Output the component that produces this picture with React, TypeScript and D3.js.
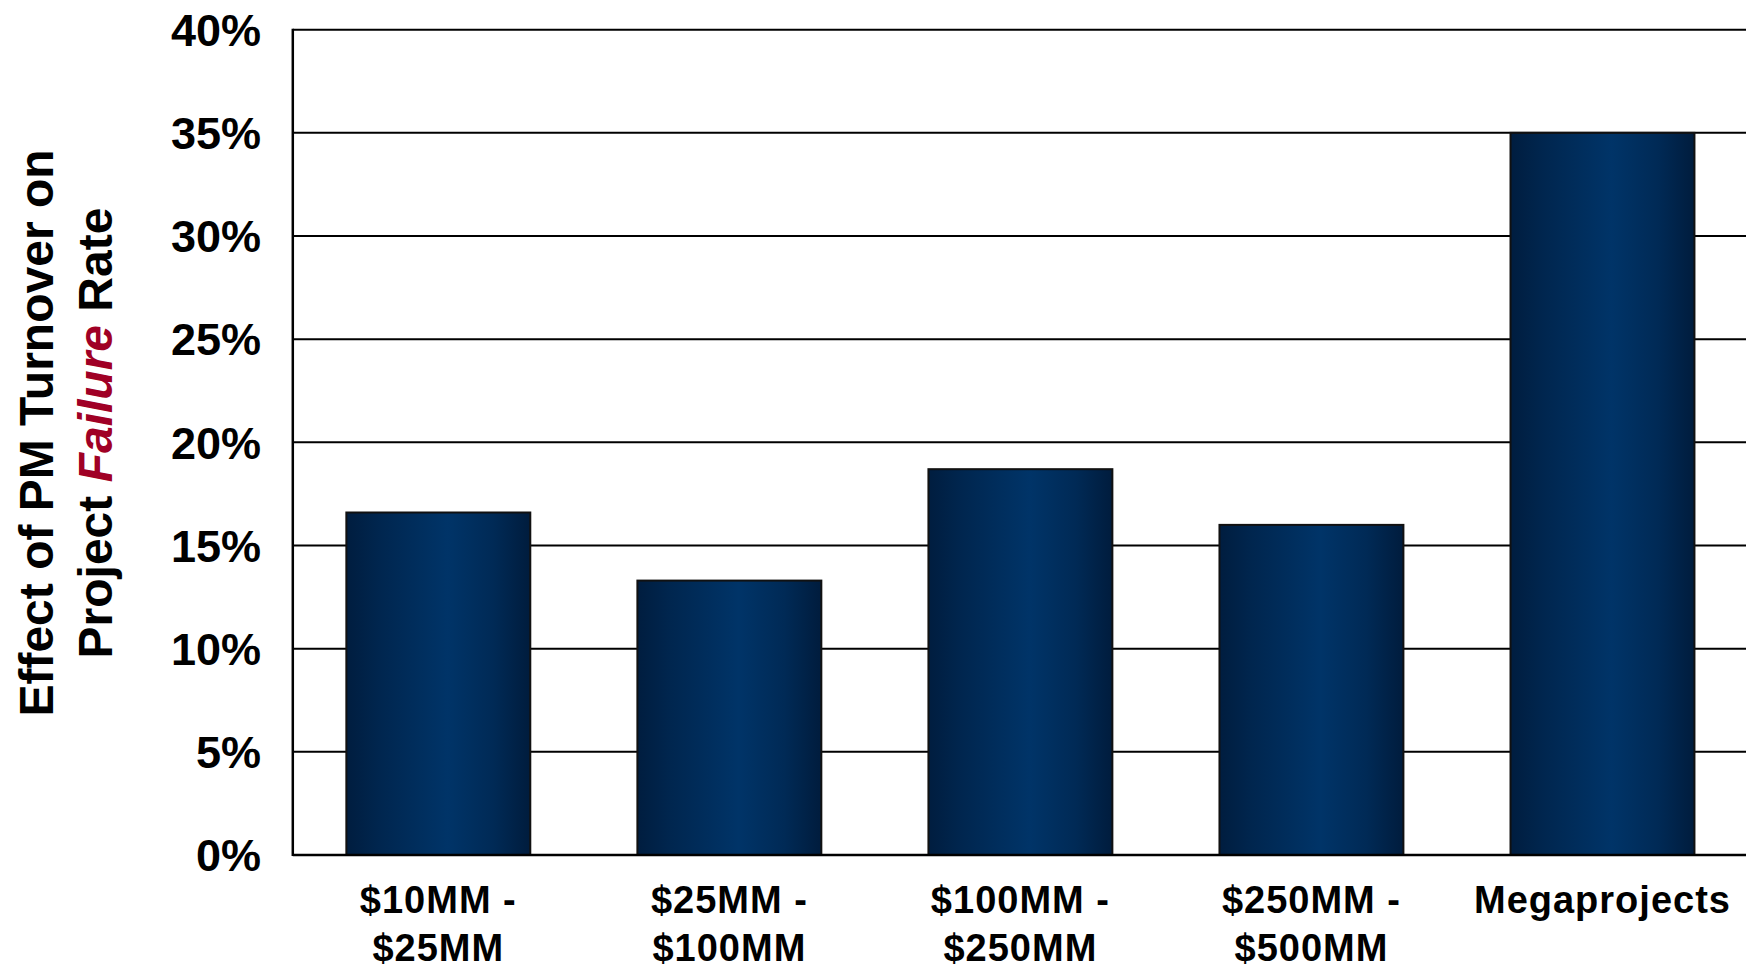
import React from "react";
import * as d3 from "d3";

const categories: string[][] = [
  ["$10MM -", "$25MM"],
  ["$25MM -", "$100MM"],
  ["$100MM -", "$250MM"],
  ["$250MM -", "$500MM"],
  ["Megaprojects"],
];
const values: number[] = [0.166, 0.133, 0.187, 0.160, 0.35];
const yTicks: number[] = [0, 0.05, 0.1, 0.15, 0.2, 0.25, 0.3, 0.35, 0.4];

const W = 1746;
const H = 966;
const FONT = "Liberation Sans, Arial, Helvetica, sans-serif";

export default function App() {
  const left = 292.8;
  const right = 1748;
  const top = 29.7;
  const bottom = 855;
  const x = d3
    .scaleBand<number>()
    .domain(d3.range(categories.length))
    .range([left, right])
    .paddingInner(0.368)
    .paddingOuter(0.184);
  const y = d3.scaleLinear().domain([0, 0.4]).range([bottom, top]);
  const fmt = d3.format(".0%");

  return (
    <svg
      width={W}
      height={H}
      style={{ position: "absolute", left: 0, top: 0, background: "#fff" }}
    >
      <defs>
        <linearGradient id="barGrad" x1="0" x2="1" y1="0" y2="0">
          <stop offset="0%" stopColor="#001d3f" />
          <stop offset="18%" stopColor="#00264f" />
          <stop offset="55%" stopColor="#003468" />
          <stop offset="80%" stopColor="#002a56" />
          <stop offset="100%" stopColor="#001c3d" />
        </linearGradient>
      </defs>
      {/* gridlines */}
      {yTicks.slice(1).map((t) => (
        <line
          key={"g" + t}
          x1={left}
          x2={right}
          y1={y(t)}
          y2={y(t)}
          stroke="#000"
          strokeWidth={2}
        />
      ))}
      {/* bars */}
      {values.map((v, i) => (
        <rect
          key={"b" + i}
          x={x(i)}
          y={y(v)}
          width={x.bandwidth()}
          height={bottom - y(v)}
          fill="url(#barGrad)"
          stroke="#111"
          strokeWidth={2}
        />
      ))}
      {/* axes */}
      <line x1={left} x2={left} y1={top - 1} y2={bottom + 1} stroke="#000" strokeWidth={2.5} />
      <line x1={left} x2={right} y1={bottom} y2={bottom} stroke="#000" strokeWidth={2.5} />
      {/* y tick labels */}
      {yTicks.map((t) => (
        <text
          key={"t" + t}
          x={261}
          y={y(t)}
          dy="0.36em"
          textAnchor="end"
          fontFamily={FONT}
          fontWeight="bold"
          fontSize={45}
          fill="#000"
        >
          {fmt(t)}
        </text>
      ))}
      {/* x labels */}
      {categories.map((lines, i) =>
        lines.map((ln, j) => (
          <text
            key={"x" + i + "-" + j}
            x={(x(i) as number) + x.bandwidth() / 2}
            y={913 + j * 48}
            textAnchor="middle"
            fontFamily={FONT}
            fontWeight="bold"
            fontSize={38}
            letterSpacing={1}
            fill="#000"
          >
            {ln}
          </text>
        ))
      )}
      {/* y axis title */}
      <g transform={`translate(53, 433) rotate(-90)`}>
        <text
          x={0}
          y={0}
          textAnchor="middle"
          fontFamily={FONT}
          fontWeight="bold"
          fontSize={48}
          fill="#000"
        >
          Effect of PM Turnover on
        </text>
      </g>
      <g transform={`translate(112, 433) rotate(-90)`}>
        <text
          x={0}
          y={0}
          textAnchor="middle"
          fontFamily={FONT}
          fontWeight="bold"
          fontSize={48}
          fill="#000"
        >
          Project{" "}
          <tspan fill="#a00025" fontStyle="italic">
            Failure
          </tspan>{" "}
          Rate
        </text>
      </g>
    </svg>
  );
}
